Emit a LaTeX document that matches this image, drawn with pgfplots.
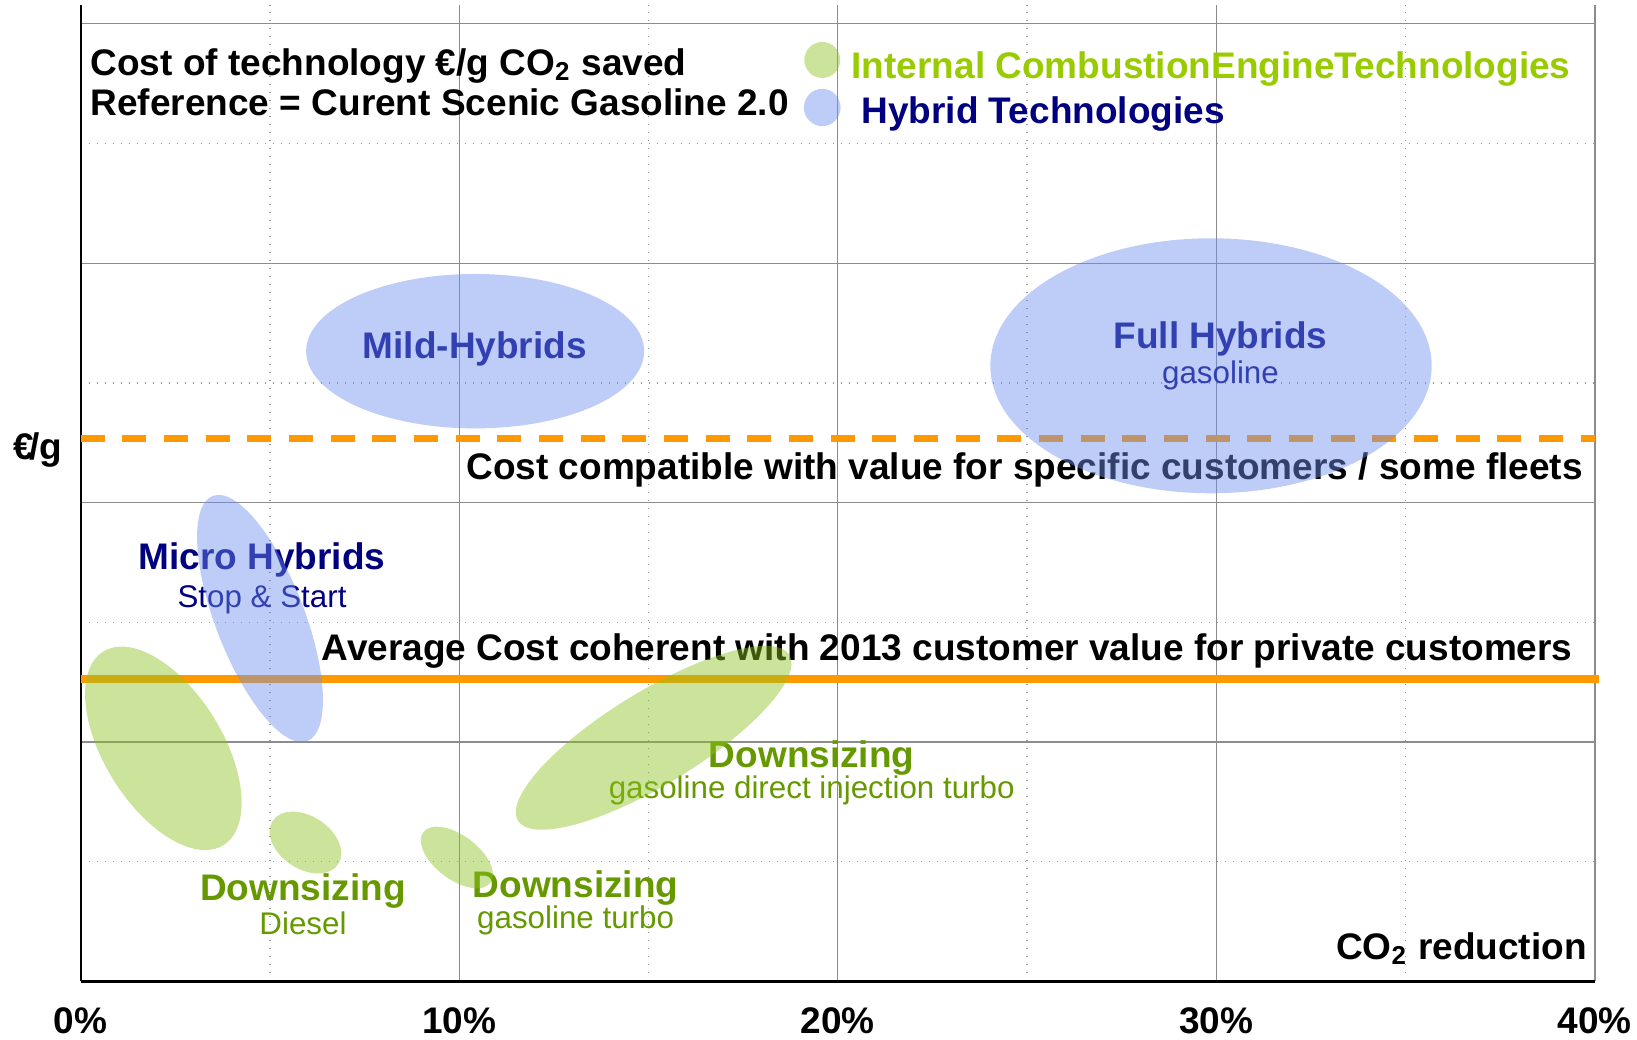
\documentclass[border=0pt]{standalone}
\usepackage{fontspec}
\setmainfont{Liberation Sans}
\usepackage{pgfplots}
\pgfplotsset{compat=1.18}
\definecolor{orng}{HTML}{FF9900}
\definecolor{hyb}{HTML}{6F8FEF}
\definecolor{ice}{HTML}{8CC21E}
\definecolor{navy}{HTML}{000080}
\definecolor{lgreen}{HTML}{99CC00}
\definecolor{dgreen}{HTML}{669900}
\newcommand{\bt}{\fontsize{11.1}{13}\selectfont\bfseries}
\newcommand{\st}{\fontsize{9.4}{11}\selectfont}
\tikzset{lbl/.style={inner sep=0pt}}
\newcommand{\ellplot}[6]{\addplot[only marks, mark=*, mark size=1pt, mark options={draw=#1, draw opacity=0, line width=0pt, fill=#1, fill opacity=0.45, rotate=#6, xscale=#4, yscale=#5}] coordinates {(#2,#3)};}
\begin{document}
\begin{tikzpicture}
\path[use as bounding box] (-24.21pt,-17.58pt) rectangle (466.89pt,294.42pt);
\begin{axis}[at={(0,0)}, anchor=south west, scale only axis,
  width=454.26pt, height=292.9pt,
  xmin=0, xmax=40, ymin=0, ymax=8.157,
  axis x line=bottom, axis y line=left,
  axis line style={-, black, line width=0.7pt},
  xtick={0,10,20,30,40}, xticklabels={0\%,10\%,20\%,30\%,40\%},
  minor xtick={5,15,25,35},
  ytick={0,2,4,6,8}, yticklabels={}, minor ytick={1,3,5,7},
  major tick length=0pt, minor tick length=0pt,
  grid=both,
  major grid style={draw=black!45, line width=0.4pt},
  minor grid style={draw=black!40, dotted, line width=0.4pt},
  xticklabel style={font=\bt, anchor=base, yshift=-15.5pt},
  clip=false]

\addplot[orng, line width=2pt, dash pattern=on 7.2pt off 5.3pt] coordinates {(0,4.535) (40,4.535)};
\addplot[orng, line width=2.4pt] coordinates {(0,2.53) (40.1,2.53)};

\node[lbl, anchor=base east, font=\bt] at (axis cs:39.70,4.192) {Cost compatible with value for specific customers / some fleets};
\node[lbl, anchor=base east, font=\bt] at (axis cs:39.43,2.677) {Average Cost coherent with 2013 customer value for private customers};

\ellplot{hyb}{10.42}{5.265}{50.7}{23.16}{0}
\ellplot{hyb}{29.86}{5.143}{66.2}{38.25}{0}
\ellplot{hyb}{4.737}{3.032}{39.4}{13.35}{111.1}
\ellplot{ice}{2.184}{1.947}{34.17}{17.73}{121.8}
\ellplot{ice}{5.937}{1.160}{11.8}{7.9}{146.4}
\ellplot{ice}{9.937}{1.035}{12.6}{6.6}{143}
\ellplot{ice}{15.136}{2.035}{47.7}{14}{31.4}
\ellplot{ice}{19.59}{7.698}{5.4}{5.4}{0}
\ellplot{hyb}{19.59}{7.301}{5.5}{5.6}{0}

\node[lbl, anchor=base west, font=\bt] at (axis cs:0.246,7.572) {Cost of technology €/g CO\textsubscript{2} saved};
\node[lbl, anchor=base west, font=\bt] at (axis cs:0.246,7.238) {Reference = Curent Scenic Gasoline 2.0};
\node[lbl, anchor=base west, font=\bt, text=lgreen] at (axis cs:20.35,7.545) {Internal CombustionEngineTechnologies};
\node[lbl, anchor=base west, font=\bt, text=navy] at (axis cs:20.61,7.169) {Hybrid Technologies};

\node[lbl, anchor=base, font=\bt, text=navy] at (axis cs:10.41,5.20) {Mild-Hybrids};
\node[lbl, anchor=base, font=\bt, text=navy] at (axis cs:30.11,5.289) {Full Hybrids};
\node[lbl, anchor=base, font=\st, text=navy] at (axis cs:30.11,4.999) {gasoline};
\node[lbl, anchor=base, font=\bt, text=navy] at (axis cs:4.79,3.437) {Micro Hybrids};
\node[lbl, anchor=base, font=\st, text=navy] at (axis cs:4.79,3.125) {Stop \& Start};
\node[lbl, anchor=base, font=\bt, text=dgreen] at (axis cs:19.31,1.789) {Downsizing};
\node[lbl, anchor=base, font=\st, text=dgreen] at (axis cs:19.31,1.528) {gasoline direct injection turbo};
\node[lbl, anchor=base, font=\bt, text=dgreen] at (axis cs:5.873,0.674) {Downsizing};
\node[lbl, anchor=base, font=\st, text=dgreen] at (axis cs:5.873,0.388) {Diesel};
\node[lbl, anchor=base, font=\bt, text=dgreen] at (axis cs:13.075,0.703) {Downsizing};
\node[lbl, anchor=base, font=\st, text=dgreen] at (axis cs:13.075,0.444) {gasoline turbo};

\node[lbl, anchor=base east, font=\bt] at (axis cs:39.80,0.185) {CO\textsubscript{2} reduction};
\node[lbl, anchor=base east, font=\bt] at (axis cs:-0.47,4.356) {€\kern-0.12em/g};
\end{axis}
\end{tikzpicture}
\end{document}
